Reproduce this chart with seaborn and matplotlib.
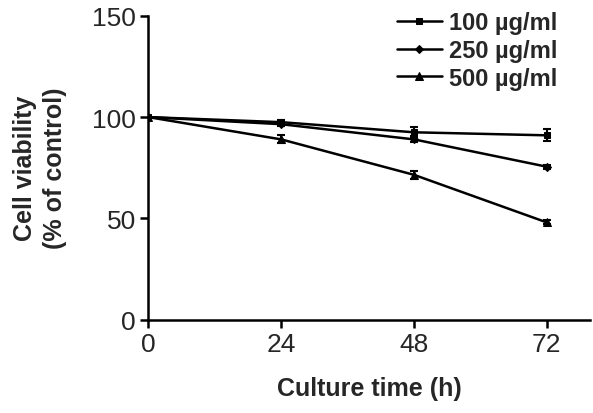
import matplotlib
matplotlib.use("Agg")
import matplotlib.pyplot as plt
import seaborn as sns
import pandas as pd

times = [0, 24, 48, 72]
series_names = ["100 \u00b5g/ml", "250 \u00b5g/ml", "500 \u00b5g/ml"]
v100 = [100, 97.5, 92.5, 91]
v250 = [100, 96.5, 89, 75.5]
v500 = [100, 89, 71.5, 48]
e100 = [0, 1, 2.5, 3]
e250 = [0, 1, 1.5, 1]
e500 = [0, 2, 2, 1]
x_ticks = [0, 24, 48, 72]
y_ticks = [0, 50, 100, 150]

sns.set_style("ticks")
plt.rcParams['font.family'] = ['Liberation Sans', 'DejaVu Sans']

df = pd.DataFrame({
    "time": times * 3,
    "value": v100 + v250 + v500,
    "err": e100 + e250 + e500,
    "series": [series_names[0]] * 4 + [series_names[1]] * 4 + [series_names[2]] * 4,
})

fig = plt.figure(figsize=(5.93, 4.14), dpi=100)
ax = fig.add_axes([0.2501, 0.2254, 0.7449, 0.734])

markers = {series_names[0]: "s", series_names[1]: "D", series_names[2]: "^"}
msizes = {series_names[0]: 5, series_names[1]: 4, series_names[2]: 6}
for name in series_names:
    sub = df[df["series"] == name]
    ax.errorbar(sub["time"], sub["value"], yerr=sub["err"], fmt="none",
                ecolor="black", elinewidth=1.5, capsize=3, capthick=1.5, zorder=2)
    sns.lineplot(data=sub, x="time", y="value", ax=ax, color="black",
                 marker=markers[name], markersize=msizes[name], linewidth=1.8,
                 markeredgecolor="black", label=name, zorder=3)

ax.set_xlim(0, 79.8)
ax.set_ylim(0, 150)
ax.set_xticks(x_ticks)
ax.set_yticks(y_ticks)
ax.tick_params(axis="both", labelsize=19, width=1.8, length=6, pad=3, color="black")
ax.set_xlabel("Culture time (h)", fontsize=18, fontweight="bold", labelpad=14)
ax.set_ylabel("Cell viability\n(% of control)", fontsize=18, fontweight="bold",
              labelpad=18, linespacing=1.3)
for s in ["top", "right"]:
    ax.spines[s].set_visible(False)
for s in ["left", "bottom"]:
    ax.spines[s].set_linewidth(1.8)
    ax.spines[s].set_color("black")

leg = ax.legend(loc="upper right", bbox_to_anchor=(0.958, 1.062), frameon=False,
                prop={"size": 17, "weight": "bold"}, handlelength=1.9,
                handletextpad=0.3, labelspacing=0.2, borderaxespad=0.2)

fig.savefig("out.png", dpi=100)
